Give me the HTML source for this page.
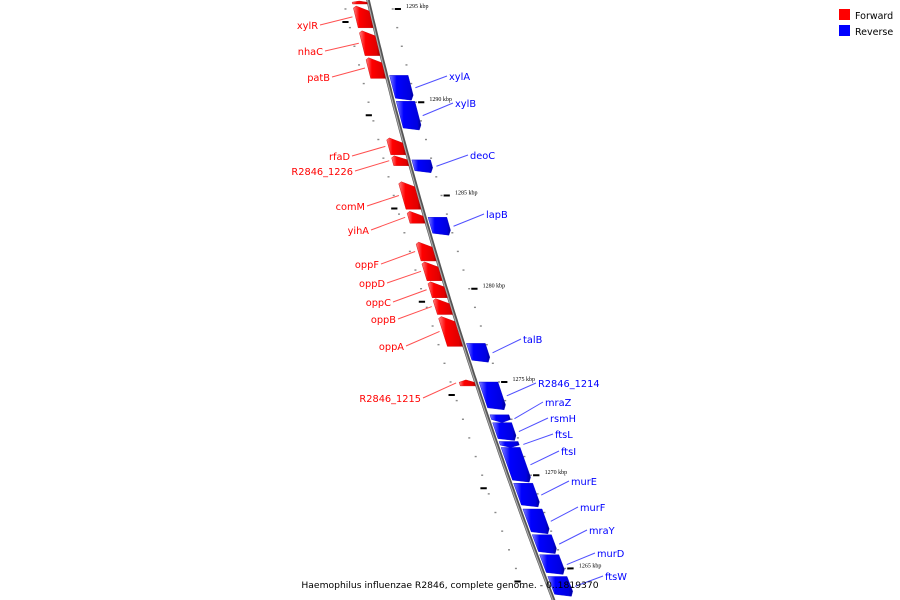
<!DOCTYPE html>
<html><head><meta charset="utf-8"><style>
html,body{margin:0;padding:0;background:#fff;overflow:hidden}
svg{display:block;font-family:"DejaVu Sans","Liberation Sans",sans-serif}
</style></head><body>
<svg id="map" width="900" height="600" viewBox="0 0 900 600" xmlns="http://www.w3.org/2000/svg">
<defs>
<linearGradient id="gr" x1="0" x2="1"><stop offset="0" stop-color="#ff8080"/><stop offset="0.3" stop-color="#ff0000"/><stop offset="0.85" stop-color="#e00000"/><stop offset="1" stop-color="#900000"/></linearGradient>
<linearGradient id="gb" x1="0" x2="1"><stop offset="0" stop-color="#8080ff"/><stop offset="0.3" stop-color="#0000ff"/><stop offset="0.85" stop-color="#0000e0"/><stop offset="1" stop-color="#000090"/></linearGradient>
</defs>
<g id="frame"></g>
<g id="overlay"></g>
<g>
<rect x="839" y="9" width="11" height="11" fill="#ff0000"/>
<text x="855" y="19" font-size="9.5" fill="#000">Forward</text>
<rect x="839" y="25" width="11" height="11" fill="#0000ff"/>
<text x="855" y="35" font-size="9.5" fill="#000">Reverse</text>
</g>
<text x="450" y="588" font-size="9.2" text-anchor="middle" fill="#000">Haemophilus influenzae R2846, complete genome. - 0..1819370</text>
</svg>
<script>
const geneNames=["","xylR","nhaC","patB","rfaD","R2846_1226","comM","yihA","oppF","oppD","oppC","oppB","oppA","R2846_1215","xylA","xylB","deoC","lapB","talB","R2846_1214","mraZ","rsmH","ftsL","ftsI","murE","murF","mraY","murD","ftsW"];
const geneStrand=["+","+","+","+","+","+","+","+","+","+","+","+","+","+","-","-","-","-","-","-","-","-","-","-","-","-","-","-","-"];
const geneStart=[1295.43,1295.16,1293.83,1292.39,1288.09,1287.13,1285.74,1284.15,1282.50,1281.44,1280.37,1279.47,1278.51,1275.11,1291.44,1290.05,1286.91,1283.83,1277.07,1275.0,1273.24,1272.82,1271.81,1271.49,1269.57,1268.19,1266.81,1265.74,1264.57];
const geneEnd=[1295.27,1293.99,1292.50,1291.28,1287.18,1286.60,1284.26,1283.51,1281.49,1280.43,1279.52,1278.62,1276.91,1274.79,1290.11,1288.51,1286.22,1282.87,1276.06,1273.51,1272.82,1271.86,1271.49,1269.63,1268.30,1266.86,1265.80,1264.68,1263.51];
const labelX=[0,318,323,330,350,353,365,369,379,385,391,396,404,421,449,455,470,486,523,538,545,550,555,561,571,580,589,597,605];
const labelY=[0,29,55,81,160,175,210,234,268,287,306,323,350,402,80,107,159,218,343,387,406,422,438,455,485,511,534,557,580];
const tickKbp=[1295,1290,1285,1280,1275,1270,1265];
const NS="http://www.w3.org/2000/svg";
const frame=document.getElementById('frame'), overlay=document.getElementById('overlay');
function bx(y){return 368+0.235*y+0.0001237*y*y;}
function bd(y){return 0.235+0.0002474*y;}
function yOf(k){return 9+(1295-k)*18.65;}
// point at screen-y y on backbone offset 'off' along the normal (positive = right)
function pt(y,off){const d=bd(y),n=Math.sqrt(1+d*d);const yy=y+off*d/n;const d2=bd(yy),n2=Math.sqrt(1+d2*d2);return [bx(yy)+off/n2, yy-off*d2/n2];}
function mk(tag,attrs,parent){const e=document.createElementNS(NS,tag);for(const k in attrs)e.setAttribute(k,attrs[k]);parent.appendChild(e);return e;}
let bpts=[];for(let y=-10;y<=610;y+=5)bpts.push(bx(y).toFixed(1)+','+y);
let bb=mk('polyline',{points:bpts.join(' '),fill:'none',stroke:'#555',"stroke-width":3.5},frame);


let bpts2=[];for(let y=-10;y<=610;y+=5)bpts2.push((bx(y)-0.6).toFixed(1)+','+y);
let bb2=mk('polyline',{points:bpts2.join(' '),fill:'none',stroke:'#aaa',"stroke-width":1.2},frame);


for(let k=1296;k>=1262;k-=1){
 for(const side of [-24,22]){
  const p=pt(yOf(k),side);
  const d=mk('rect',{x:p[0]-1,y:p[1]-0.7,width:2,height:1.4,fill:'#888'},frame);
  
  
 }
}
function dash(y,off,name){const a=pt(y,off),b=pt(y,off+6);const l=mk('line',{x1:a[0],y1:a[1],x2:b[0],y2:b[1],stroke:'#000',"stroke-width":2},frame);}
tickKbp.forEach(k=>{
 const y=yOf(k);
 dash(y,24,'major-tick-'+k);
 dash(yOf(k-0.7),-30,'major-tick-left');
 const p=pt(y,33);
 const tx=mk('text',{x:p[0]+2,y:p[1]-1,"font-size":6,fill:'#000',"font-family":'Liberation Serif,serif'},overlay);
 tx.textContent=k+' kbp';
 
 
});
geneNames.forEach((n,i)=>{
 const fwd=geneStrand[i]==='+';
 const y1=yOf(geneStart[i]), y2=yOf(geneEnd[i]);
 const o0=fwd?-16:3, o1=fwd?-1.5:21;
 const len=y2-y1, head=Math.min(5,len*0.4);
 let sp;
 if(len>8){ if(fwd) sp=[[o0,y1+2],[o0+3,y1],[o1,y1+head],[o1,y2],[o0,y2]]; else sp=[[o0,y1],[o1,y1],[o1,y2-head],[o1-3,y2],[o0,y2-2]]; }
 else { if(fwd) sp=[[o0,y1+head],[(o0+o1)/2,y1],[o1,y1+head],[o1,y2],[o0,y2]]; else sp=[[o0,y1],[o1,y1],[o1,y2-head],[(o0+o1)/2,y2],[o0,y2-head]]; }
 const pts=sp.map(q=>pt(q[1],q[0]).map(v=>v.toFixed(1)).join(','));
 const g=mk('polygon',{points:pts.join(' '),fill:fwd?'url(#gr)':'url(#gb)',stroke:fwd?'#c00':'#00c',"stroke-width":0.4},frame);
 
 
 if(!n) return;
 const col=fwd?'#ff0000':'#0000ff';
 const tgt=pt((y1+y2)/2,fwd?-19:25);
 const lx=labelX[i], ly=labelY[i];
 const ln=mk('line',{x1:fwd?lx+2:lx-2,y1:ly-4,x2:tgt[0],y2:tgt[1],stroke:fwd?'#ff5050':'#5050ff',"stroke-width":1},overlay);
 
 
 const tx=mk('text',{x:lx,y:ly,"font-size":9.8,fill:col,"text-anchor":fwd?'end':'start'},overlay);
 tx.textContent=n;
 
 
});
</script>
</body></html>
